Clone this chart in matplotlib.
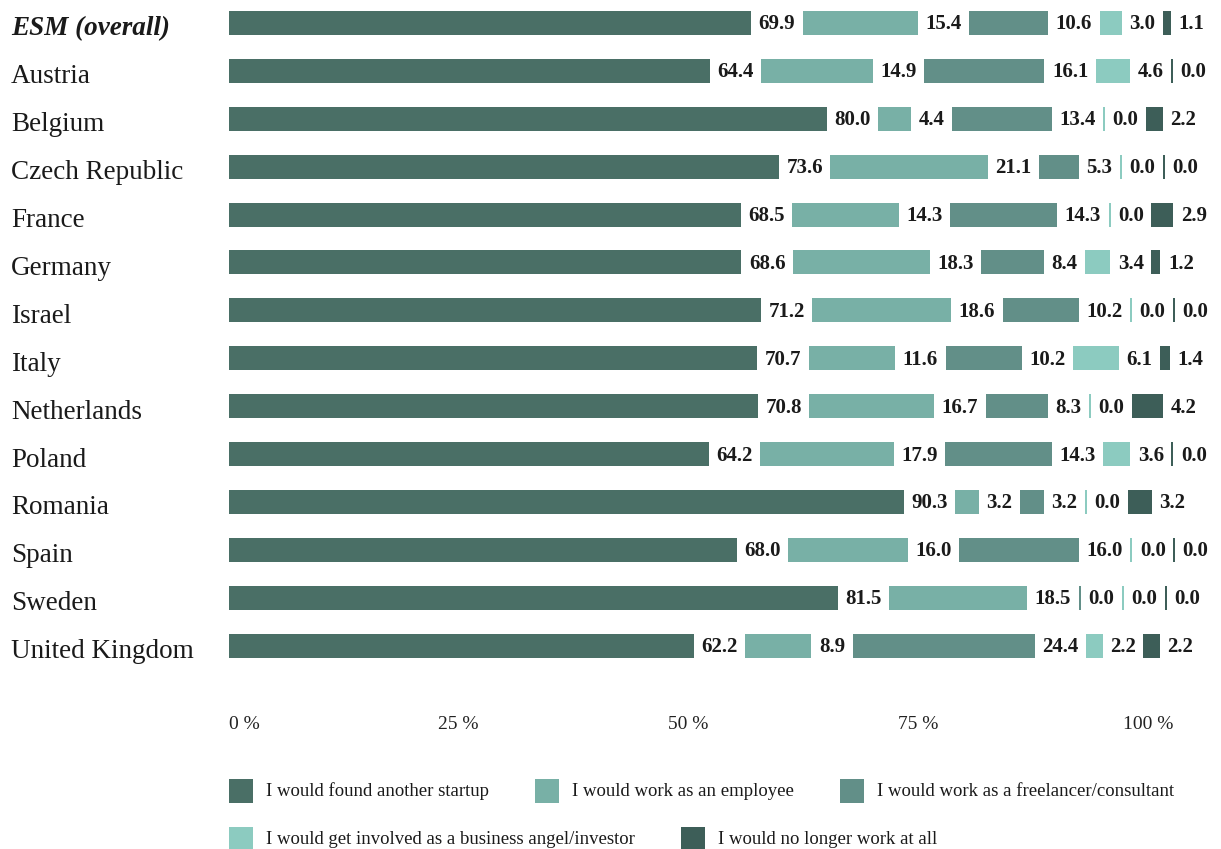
import matplotlib
matplotlib.use('Agg')
import matplotlib.pyplot as plt
from matplotlib.patches import Rectangle

countries = ['ESM (overall)', 'Austria', 'Belgium', 'Czech Republic', 'France',
             'Germany', 'Israel', 'Italy', 'Netherlands', 'Poland', 'Romania',
             'Spain', 'Sweden', 'United Kingdom']
found_startup = [69.9, 64.4, 80.0, 73.6, 68.5, 68.6, 71.2, 70.7, 70.8, 64.2, 90.3, 68.0, 81.5, 62.2]
employee = [15.4, 14.9, 4.4, 21.1, 14.3, 18.3, 18.6, 11.6, 16.7, 17.9, 3.2, 16.0, 18.5, 8.9]
freelancer = [10.6, 16.1, 13.4, 5.3, 14.3, 8.4, 10.2, 10.2, 8.3, 14.3, 3.2, 16.0, 0.0, 24.4]
investor = [3.0, 4.6, 0.0, 0.0, 0.0, 3.4, 0.0, 6.1, 0.0, 3.6, 0.0, 0.0, 0.0, 2.2]
no_work = [1.1, 0.0, 2.2, 0.0, 2.9, 1.2, 0.0, 1.4, 4.2, 0.0, 3.2, 0.0, 0.0, 2.2]

series = [found_startup, employee, freelancer, investor, no_work]
legend_labels = ['I would found another startup', 'I would work as an employee',
                 'I would work as a freelancer/consultant',
                 'I would get involved as a business angel/investor',
                 'I would no longer work at all']
colors = ['#4a6f66', '#78b0a6', '#628f88', '#8ccbc0', '#3d5e58']
tick_vals = [0, 25, 50, 75, 100]
tick_labels = ['0 %', '25 %', '50 %', '75 %', '100 %']

FONT = 'Liberation Serif'
W, H = 1221, 849
ROW_PX = 47.9

fig = plt.figure(figsize=(W / 100, H / 100), dpi=100)
ax = fig.add_axes([229 / W, 179 / H, 919 / W, 670 / H])
ax.set_xlim(0, 100)
ax.set_ylim(13.51, -0.48)
for s in ax.spines.values():
    s.set_visible(False)

renderer = fig.canvas.get_renderer()
unit = ax.transData.transform((1, 0))[0] - ax.transData.transform((0, 0))[0]
bar_scale = 7.47 / unit   # bars are drawn narrower than the axis scale
pad = 7.5 / unit

for i in range(len(countries)):
    left = 0
    for j, vals in enumerate(series):
        v = vals[i]
        w = v * bar_scale if v > 0 else 2 / unit
        ax.barh(i, w, left=left, height=0.5, color=colors[j], linewidth=0, clip_on=False)
        left += w + pad
        t = ax.text(left, i + 1.5 / ROW_PX, f'{v:.1f}', va='center', ha='left',
                    fontsize=15, fontweight='bold', color='#1a1a1a', family=FONT)
        tw = t.get_window_extent(renderer).width / unit
        left += tw + pad

ax.set_xticks(tick_vals, tick_labels)
ax.tick_params(axis='x', length=0, pad=33, labelsize=14, labelcolor='#222222')
for k, lab in enumerate(ax.get_xticklabels()):
    lab.set_family(FONT)
    lab.set_ha('left' if k == 0 else 'center')

ax.set_yticks([])
for i, name in enumerate(countries):
    ax.text(-218 / unit, i + 3 / ROW_PX, name, ha='left', va='center_baseline',
            fontsize=19.5, family=FONT, color='#1a1a1a', clip_on=False,
            fontweight='bold' if i == 0 else 'normal',
            style='italic' if i == 0 else 'normal')

# legend, laid out as flowing rows in pixel space
lax = fig.add_axes([0, 0, 1, 1])
lax.set_xlim(0, W)
lax.set_ylim(H, 0)
lax.axis('off')
rows = [[0, 1, 2], [3, 4]]
row_y = [791, 839]
for r, items in enumerate(rows):
    x = 229
    for j in items:
        lax.add_patch(Rectangle((x, row_y[r] - 12), 24, 24, color=colors[j], lw=0))
        t = lax.text(x + 37, row_y[r], legend_labels[j], va='center', ha='left',
                     fontsize=13.5, family=FONT, color='#1a1a1a')
        x = t.get_window_extent(renderer).x1 + 46

fig.savefig('out.png', dpi=100)
